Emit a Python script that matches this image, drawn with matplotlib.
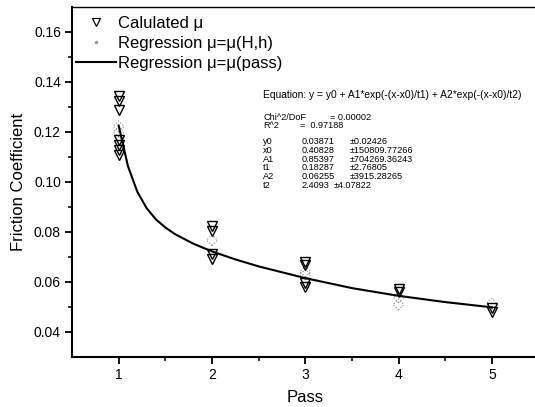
import numpy as np
import matplotlib
matplotlib.use("Agg")
import matplotlib.pyplot as plt
from matplotlib.lines import Line2D

plt.rcParams['font.family'] = ['Liberation Sans', 'DejaVu Sans']

# calculated friction coefficient, per pass
calc_x = [1, 1, 1, 1, 1, 1, 1,
          2, 2, 2, 2,
          3, 3, 3, 3,
          4, 4,
          5, 5]
calc_y = [0.1342, 0.1325, 0.1289, 0.1169, 0.1149, 0.1129, 0.1109,
          0.0822, 0.0802, 0.0709, 0.0689,
          0.0679, 0.0667, 0.0594, 0.0577,
          0.0572, 0.0558,
          0.0493, 0.0478]

# regression mu(H,h) points (faint, dotted in the scan)
reg_x = [1, 1, 2, 3, 3, 4, 4, 5]
reg_y = [0.1222, 0.1200, 0.0766, 0.0640, 0.0628, 0.0537, 0.0508, 0.0512]

# regression mu(pass) curve
fit_x = [1.0, 1.1, 1.2, 1.3, 1.4, 1.5, 1.6, 1.8, 2.0, 2.25, 2.5, 3.0, 3.5, 4.0, 4.5, 5.0]
fit_y = [0.1225, 0.1062, 0.0960, 0.0894, 0.0849, 0.0817, 0.0791, 0.0752, 0.0721,
         0.0689, 0.0661, 0.0614, 0.0574, 0.0543, 0.0518, 0.0497]

eq_text = "Equation: y = y0 + A1*exp(-(x-x0)/t1) + A2*exp(-(x-x0)/t2)"
chi_text = "Chi^2/DoF"
chi_val = "= 0.00002"
r2_text = "R^2"
r2_val = "=  0.97188"
par_names = ["y0", "x0", "A1", "t1", "A2", "t2"]
par_vals = ["0.03871", "0.40828", "0.85397", "0.18287", "0.06255", "2.4093"]
par_errs = ["\u00b10.02426", "\u00b1150809.77266", "\u00b1704269.36243",
            "\u00b12.76805", "\u00b13915.28265", "\u00b14.07822"]

W, H = 535, 407
fig = plt.figure(figsize=(W / 100, H / 100), dpi=100)
ax = fig.add_axes([72 / W, 1 - 356.5 / H, (538.5 - 72) / W, (356.5 - 7) / H])

ax.plot(fit_x, fit_y, color='black', lw=1.5, zorder=3)
ax.scatter(reg_x, reg_y, marker='D', s=30, facecolors='none',
           edgecolors='0.55', linewidths=0.8, linestyle=':', zorder=2)
ax.plot(calc_x, calc_y, ls='none', marker='v', ms=7, mfc='none',
        mec='black', mew=1.0, zorder=4)

ax.set_xlim(0.5, 5.5)
ax.set_ylim(0.03, 0.17)
ax.set_xticks([1, 2, 3, 4, 5])
ax.set_xticks([1.5, 2.5, 3.5, 4.5], minor=True)
ax.set_yticks([0.04, 0.06, 0.08, 0.10, 0.12, 0.14, 0.16])
ax.set_yticks([0.05, 0.07, 0.09, 0.11, 0.13, 0.15], minor=True)
ax.set_yticklabels(["0.04", "0.06", "0.08", "0.10", "0.12", "0.14", "0.16"])
ax.tick_params(which='major', direction='out', length=5, width=1.3,
               labelsize=10, pad=3)
ax.tick_params(which='minor', direction='out', length=3, width=1.1)
for sp in ax.spines.values():
    sp.set_linewidth(1.5)
ax.spines['top'].set_linewidth(1.0)

ax.set_xlabel("Pass", fontsize=12, labelpad=6)
ax.set_ylabel("Friction Coefficient", fontsize=12, labelpad=6)

handles = [
    Line2D([], [], ls='none', marker='v', ms=6, mfc='none', mec='black', mew=0.9),
    Line2D([], [], ls='none', marker='.', ms=3, color='0.6'),
    Line2D([], [], color='black', lw=1.5),
]
labels = ["Calulated \u03bc", "Regression \u03bc=\u03bc(H,h)", "Regression \u03bc=\u03bc(pass)"]
ax.legend(handles, labels, loc='upper left', bbox_to_anchor=(-0.01, 0.998),
          frameon=False, fontsize=12, handlelength=2.4, handletextpad=0.15,
          labelspacing=0.3, borderaxespad=0.3, borderpad=0.2)

fs = 6.6
def ftext(x, y, s, size=fs):
    fig.text(x / W, 1 - y / H, s, fontsize=size, va='center', ha='left')

ftext(263, 95, eq_text, 7.4)
ftext(263, 117.3, chi_text)
ftext(330, 117.3, chi_val)
ftext(263, 125.3, r2_text)
ftext(300, 125.3, r2_val)
row_y = [141.7, 150.5, 159.0, 167.5, 176.5, 185.3]
for i, name in enumerate(par_names):
    ftext(263, row_y[i], name)
    ftext(301.5, row_y[i], par_vals[i])
    if name == "t2":
        ftext(334, row_y[i], par_errs[i])
    else:
        ftext(350, row_y[i], par_errs[i])

fig.savefig("out.png", dpi=100)
